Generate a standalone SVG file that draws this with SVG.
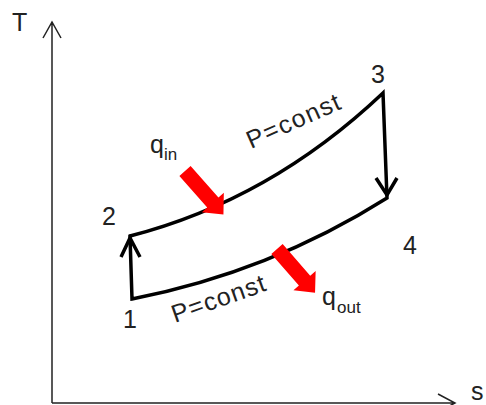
<svg xmlns="http://www.w3.org/2000/svg" width="486" height="405" viewBox="0 0 486 405">
  <style>
    .axis { fill: none; stroke: #222; stroke-width: 1.5; }
    .cyc { fill: none; stroke: #000; stroke-width: 3.5; stroke-linejoin: miter; }
    .chev { fill: none; stroke: #000; stroke-width: 3.5; stroke-linejoin: miter; stroke-linecap: butt; }
    .lbl { font-family: "Liberation Sans", Arial, sans-serif; fill: #222; font-size: 25px; }
    .sub { font-family: "Liberation Sans", Arial, sans-serif; fill: #222; font-size: 17px; }
    .heat { fill: #ff0000; }
  </style>
  <defs>
    <polygon id="blk" points="0,-7.5 42,-7.5 42,-14.7 58,0 42,14.7 42,7.5 0,7.5"/>
  </defs>
  <rect width="486" height="405" fill="#fff"/>
  <g id="axes">
    <path class="axis" d="M52,403 L52,22 M43,38 L52,22 L61,38"/>
    <path class="axis" d="M52,403 L455,403 M438,394 L455,403 L438,412"/>
    <text class="lbl" x="12" y="31">T</text>
    <text class="lbl" x="471" y="400">s</text>
  </g>
  <g id="connectors">
    <path class="cyc" d="M132,299 L130,236 Q270,200 383,93 L387,198 Q270,272 132,299 Z"/>
    <polyline class="chev" points="121,257 130,238 140,257"/>
    <polyline class="chev" points="376,178 387,195 397,178"/>
  </g>
  <g id="heat-in">
    <use href="#blk" class="heat" transform="translate(185,171) rotate(48.5)"/>
    <text class="lbl" x="150" y="153">q</text>
    <text class="sub" x="164" y="160">in</text>
  </g>
  <g id="heat-out">
    <use href="#blk" class="heat" transform="translate(277,249) rotate(49)"/>
    <text class="lbl" x="322" y="305">q</text>
    <text class="sub" x="337" y="313">out</text>
  </g>
  <g id="state-1"><text class="lbl" x="123" y="328">1</text></g>
  <g id="state-2"><text class="lbl" x="102" y="225">2</text></g>
  <g id="state-3"><text class="lbl" x="371" y="83">3</text></g>
  <g id="state-4"><text class="lbl" x="403" y="254">4</text></g>
  <g id="process-labels">
    <text class="lbl" transform="translate(251,149) rotate(-24)" textLength="100" lengthAdjust="spacing">P=const</text>
    <text class="lbl" transform="translate(175,323) rotate(-19.5)" textLength="98" lengthAdjust="spacing">P=const</text>
  </g>
</svg>
